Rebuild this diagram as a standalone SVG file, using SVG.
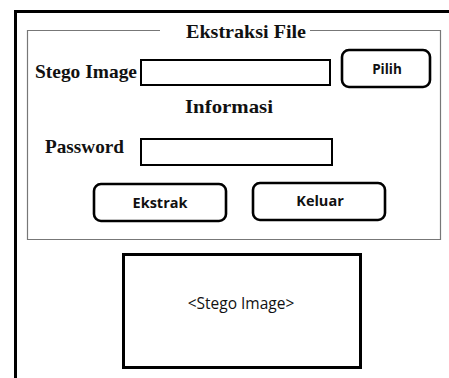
<svg xmlns="http://www.w3.org/2000/svg" width="449" height="378" viewBox="0 0 449 378">
<style>
.serif{font-family:"Liberation Serif","Times New Roman",serif;font-weight:bold;fill:#111}
.sans{font-family:"Open Sans","DejaVu Sans",sans-serif;font-weight:bold;fill:#111}
.btn{fill:#fff;stroke:#000;stroke-width:2.6}
.field{fill:#fff;stroke:#000;stroke-width:2}
.group{fill:none;stroke:#777;stroke-width:1.2}
</style>
<rect width="449" height="378" fill="#fff"/>
<g id="frame">
<path d="M15.5 378 V11.5 H449" fill="none" stroke="#000" stroke-width="3"/>
</g>
<g id="groupbox">
<path d="M160 30.5 H27.5 V239.5 H440.5 V30.5 H310" class="group"/>
<text x="246" y="38" class="serif" font-size="19.5" text-anchor="middle" textLength="120" lengthAdjust="spacingAndGlyphs">Ekstraksi File</text>
</g>
<g id="stego-label"><text x="35" y="78" class="serif" font-size="19.5" textLength="102" lengthAdjust="spacingAndGlyphs">Stego Image</text></g>
<g id="stego-field"><rect x="141" y="60" width="189" height="25" class="field"/></g>
<g id="pilih"><rect x="342" y="50" width="88" height="37" rx="7" class="btn"/><text x="387" y="74" class="sans" font-size="13.5" text-anchor="middle">Pilih</text></g>
<g id="informasi"><text x="229" y="113" class="serif" font-size="19.5" text-anchor="middle" textLength="88" lengthAdjust="spacingAndGlyphs">Informasi</text></g>
<g id="password-label"><text x="45" y="153" class="serif" font-size="19.5" textLength="79" lengthAdjust="spacingAndGlyphs">Password</text></g>
<g id="password-field"><rect x="141" y="139" width="191" height="26" class="field"/></g>
<g id="ekstrak"><rect x="94" y="184" width="132" height="37" rx="7" class="btn"/><text x="160" y="208" class="sans" font-size="14.5" text-anchor="middle">Ekstrak</text></g>
<g id="keluar"><rect x="253" y="183" width="132" height="37" rx="7" class="btn"/><text x="320" y="206" class="sans" font-size="14.5" text-anchor="middle">Keluar</text></g>
<g id="preview"><rect x="123.5" y="254.5" width="237" height="113" fill="#fff" stroke="#000" stroke-width="3"/><text x="241" y="309" font-family="'Open Sans','DejaVu Sans',sans-serif" font-size="15.5" fill="#111" text-anchor="middle">&lt;Stego Image&gt;</text></g>
</svg>
